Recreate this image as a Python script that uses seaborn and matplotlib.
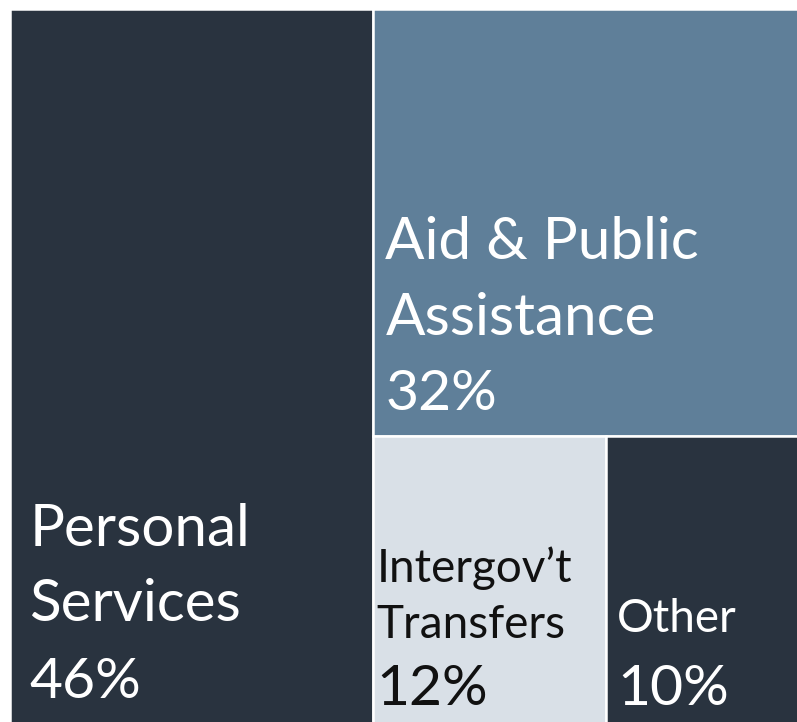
import matplotlib
matplotlib.use("Agg")
import matplotlib.pyplot as plt
import seaborn as sns

# spending shares (percent)
categories = ["Personal Services", "Aid & Public Assistance", "Intergov't Transfers", "Other"]
label_lines = [["Personal", "Services"], ["Aid & Public", "Assistance"], ["Intergov\u2019t", "Transfers"], ["Other"]]
shares = [46, 32, 12, 10]
tile_colors = ["#29333f", "#5f7f99", "#d9e0e7", "#29333f"]
text_colors = ["white", "white", "#111111", "white"]

sns.set_theme(style="white")
plt.rcParams["font.family"] = ["Lato", "DejaVu Sans"]

fig = plt.figure(figsize=(7.97, 7.22), dpi=100)
ax = fig.add_axes([9.5 / 797, -8 / 722, 791 / 797, 721 / 722])

# slice-and-dice layout: first tile takes a vertical slice, the rest split the remainder
total = sum(shares)
w0 = shares[0] / total
rest = total - shares[0]
h1 = shares[1] / rest
rest2 = rest - shares[1]
w2 = (1 - w0) * shares[2] / rest2

tiles = [
    (0, 0, w0, 1),
    (w0, 0, 1 - w0, h1),
    (w0, h1, w2, 1 - h1),
    (w0 + w2, h1, 1 - w0 - w2, 1 - h1),
]

for (x0, y0, w, h), c in zip(tiles, tile_colors):
    ax.bar(x0, h, width=w, bottom=y0, align="edge", color=c, edgecolor="white", linewidth=1.8)

# text: (left offset px, last baseline px above tile bottom, line gap px, label size, label-to-pct gap)
text_style = [
    (20, 32, 75, 42, 77),
    (12, 26, 76, 42, 75),
    (3, 25, 56, 33, 67),
    (11, 25, 56, 33, 73),
]

for (x0, y0, w, h), lines, v, tc, (dx, base, gap, lsize, pgap) in zip(tiles, label_lines, shares, text_colors, text_style):
    xy = (x0, y0 + h)
    ax.annotate(f"{v}%", xy=xy, xytext=(dx, base), textcoords="offset pixels",
                color=tc, fontsize=41, ha="left", va="baseline")
    yb = base + pgap
    for ln in reversed(lines):
        ax.annotate(ln, xy=xy, xytext=(dx, yb), textcoords="offset pixels",
                    color=tc, fontsize=lsize, ha="left", va="baseline")
        yb += gap

ax.set_xlim(0, 1)
ax.set_ylim(1, 0)
ax.axis("off")

fig.savefig("out.png", dpi=100)
